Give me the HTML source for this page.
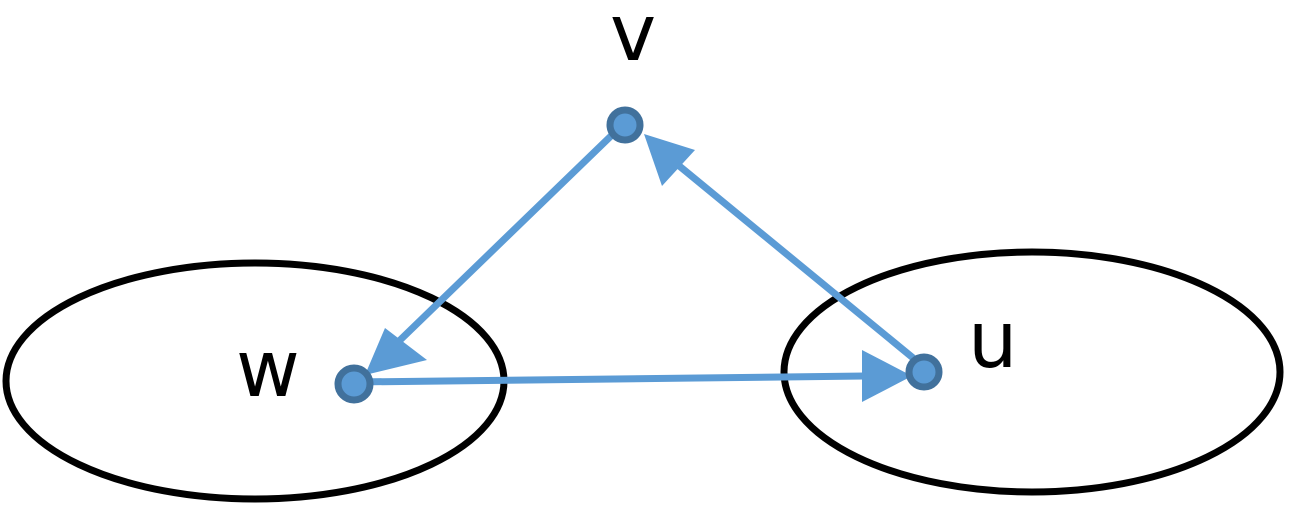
<!DOCTYPE html>
<html><head><style>body{margin:0;background:#fff}</style></head><body>
<svg width="1293" height="519" viewBox="0 0 1293 519" xmlns="http://www.w3.org/2000/svg">
<ellipse cx="255" cy="381" rx="249" ry="118" fill="none" stroke="#000" stroke-width="7"/>
<ellipse cx="1032" cy="372" rx="248" ry="120" fill="none" stroke="#000" stroke-width="7"/>
<g stroke="#5b9bd5" stroke-width="7" fill="none">
<line x1="612" y1="135" x2="395" y2="345"/>
<line x1="355" y1="382" x2="865" y2="376"/>
<line x1="918" y1="362" x2="672" y2="160"/>
</g>
<g fill="#5b9bd5">
<polygon points="365,375 385,328 427,360"/>
<polygon points="912,376 862,350 862,402"/>
<polygon points="644,134 695,150 662,186"/>
</g>
<g fill="#5b9bd5" stroke="#41719c" stroke-width="7">
<circle cx="625" cy="125" r="15"/>
<circle cx="354" cy="384" r="16"/>
<circle cx="924" cy="372" r="15"/>
</g>
<g font-family="DejaVu Sans, Liberation Sans, sans-serif" font-size="78" fill="#000">
<text x="610" y="60">v</text>
<text x="236" y="396">w</text>
<text x="968" y="367">u</text>
</g>
</svg>
</body></html>
